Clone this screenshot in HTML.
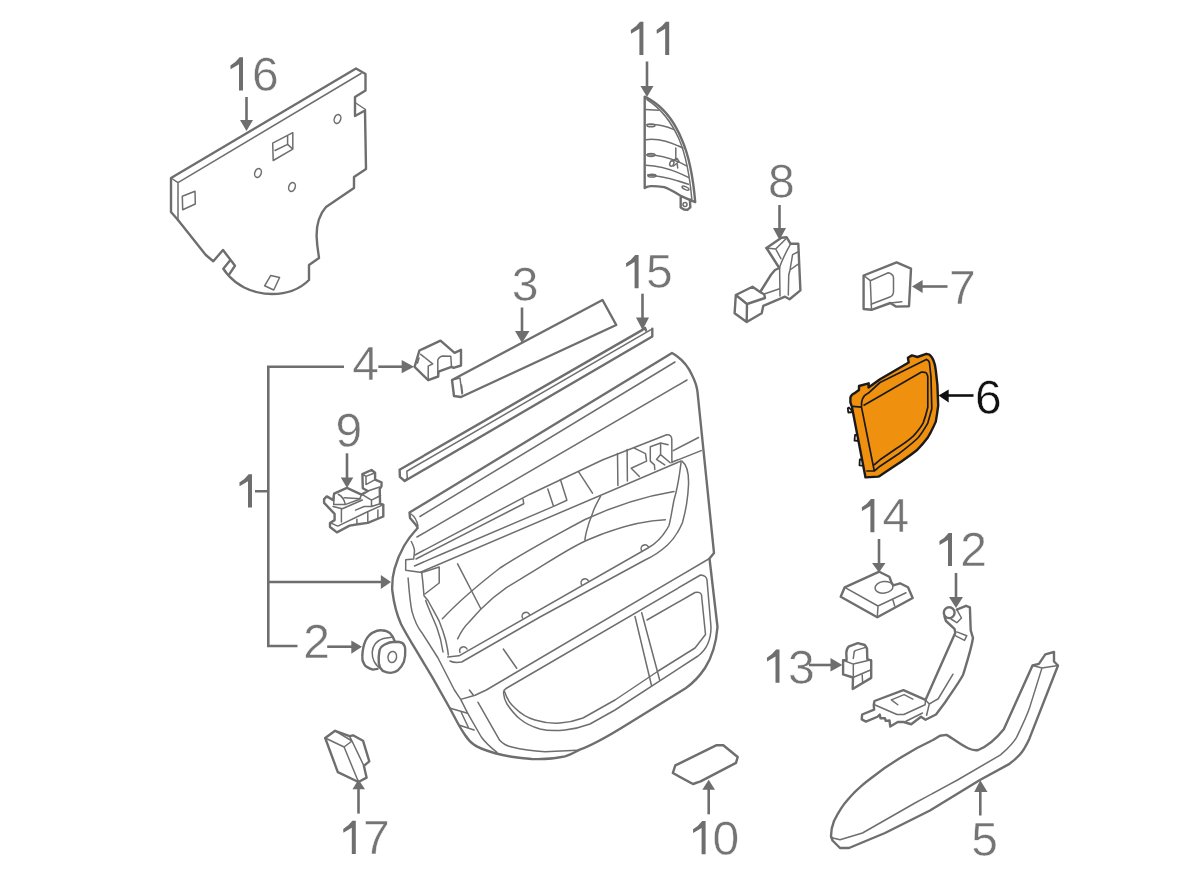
<!DOCTYPE html>
<html><head><meta charset="utf-8">
<style>
html,body{margin:0;padding:0;background:#fff;width:1200px;height:878px;overflow:hidden}
svg{position:absolute;left:0;top:0}
.t{font-family:"Liberation Sans",sans-serif;font-size:48px;fill:#747474;stroke:#fff;stroke-width:0.5;will-change:transform}
.o{fill:none;stroke:#6e6e6e;stroke-width:2.4;stroke-linejoin:round;stroke-linecap:round}
.i{fill:none;stroke:#6e6e6e;stroke-width:1.5;stroke-linejoin:round;stroke-linecap:round}
.a{fill:none;stroke:#6e6e6e;stroke-width:2.6}
.h{fill:#6e6e6e;stroke:none}
</style></head><body>
<svg width="1200" height="878" viewBox="0 0 1200 878">
<!-- LABELS -->
<g class="t">
<text x="252" y="90.5">6</text>
<text x="768" y="198">8</text>
<text x="949" y="304">7</text>
<text x="511.75" y="301.2">3</text>
<text x="646" y="287.5">5</text>
<text x="352.3" y="380">4</text>
<text x="335.5" y="446.7">9</text>
<text x="303.2" y="658">2</text>
<text x="882.6" y="532.3">4</text>
<text x="960.3" y="566.2">2</text>
<text x="788" y="683.5">3</text>
<text x="363" y="854">7</text>
<text x="712.5" y="854.7">0</text>
<text x="971.3" y="856.1">5</text>
<text x="975" y="413.5" style="fill:#111">6</text>
</g>
<g><path fill="#6e6e6e" d="M243.0,57.3 V90.5 H239.0 V64.3 L230.6,69.3 L230.4,65.5 Q236.0,62.3 239.6,57.3 Z"/>
<path fill="#6e6e6e" d="M643.4,21.8 V55.0 H639.4 V28.8 L631.0,33.8 L630.8,30.0 Q636.4,26.8 640.0,21.8 Z"/>
<path fill="#6e6e6e" d="M669.2,21.8 V55.0 H665.2 V28.8 L656.8,33.8 L656.6,30.0 Q662.2,26.8 665.8,21.8 Z"/>
<path fill="#6e6e6e" d="M638.6,255.0 V288.2 H634.6 V262.0 L626.2,267.0 L626.0,263.2 Q631.6,260.0 635.2,255.0 Z"/>
<path fill="#6e6e6e" d="M252.0,474.2 V507.4 H248.0 V481.2 L239.6,486.2 L239.4,482.4 Q245.0,479.2 248.6,474.2 Z"/>
<path fill="#6e6e6e" d="M874.4,499.1 V532.3 H870.4 V506.1 L862.0,511.1 L861.8,507.3 Q867.4,504.1 871.0,499.1 Z"/>
<path fill="#6e6e6e" d="M952.0,532.9 V566.1 H948.0 V539.9 L939.6,544.9 L939.4,541.1 Q945.0,537.9 948.6,532.9 Z"/>
<path fill="#6e6e6e" d="M779.5,649.5 V682.7 H775.5 V656.5 L767.1,661.5 L766.9,657.7 Q772.5,654.5 776.1,649.5 Z"/>
<path fill="#6e6e6e" d="M355.8,820.8 V854.0 H351.8 V827.8 L343.4,832.8 L343.2,829.0 Q348.8,825.8 352.4,820.8 Z"/>
<path fill="#6e6e6e" d="M705.6,821.0 V854.2 H701.6 V828.0 L693.2,833.0 L693.0,829.2 Q698.6,826.0 702.2,821.0 Z"/></g>
<!-- ARROWS -->
<g>
<path class="a" d="M246.5,97 V122"/><path class="h" d="M240,120 H253 L246.5,131 Z"/>
<path class="a" d="M647,61.5 V88"/><path class="h" d="M640.5,86 H653.5 L647,97 Z"/>
<path class="a" d="M779.5,205 V230"/><path class="h" d="M773,228 H786 L779.5,240 Z"/>
<path class="a" d="M947.5,286.5 H920"/><path class="h" d="M922.6,280 V293 L912,286.5 Z"/>
<path class="a" d="M522,307.5 V333"/><path class="h" d="M515,331 H529.5 L522,343 Z"/>
<path class="a" d="M642.5,293.7 V319"/><path class="h" d="M636,317.5 H649 L642.5,330 Z"/>
<path class="a" d="M378.3,366.7 H404"/><path class="h" d="M401.7,360 V373.3 L414,366.7 Z"/>
<path class="a" d="M347,453.3 V479"/><path class="h" d="M340.8,477.5 H353.3 L347,488 Z"/>
<path class="a" d="M268.3,366.7 V646 H297.5 M267,366.7 H344 M255,491.3 H268.3 M268.3,582 H383"/><path class="h" d="M380.8,575 V589 L391,582 Z"/>
<path class="a" d="M327.2,646.7 H353"/><path class="h" d="M351.3,640.4 V653.8 L362,646.7 Z"/>
<path class="a" d="M879,539 V565"/><path class="h" d="M872,563 H885.5 L879,572.5 Z"/>
<path class="a" d="M956,573 V599"/><path class="h" d="M949,597 H963 L956,608 Z"/>
<path class="a" d="M809,665 H832"/><path class="h" d="M830.5,658 V671.4 L842.3,664.9 Z"/>
<path class="a" d="M358.5,813.6 V787"/><path class="h" d="M352.5,789.3 H365 L358.5,779.4 Z"/>
<path class="a" d="M708.7,814.3 V787"/><path class="h" d="M702.3,789.8 H715 L708.7,779.7 Z"/>
<path class="a" d="M980.3,815.5 V790"/><path class="h" d="M974.2,792 H987.5 L980.3,780.2 Z"/>
<path d="M973.5,395.5 H946" style="fill:none;stroke:#111;stroke-width:2.6"/><path d="M948.7,389.5 V402.4 L938.5,395.5 Z" fill="#111"/>
</g>
<!-- PART 16 -->
<g>
<path class="o" d="M178,220 L171,212 L171,178 L356,68.5 L365.5,74 L365.5,90.5 L355,97 L355,116 L365,110.5 L366,169 L354,177 L354,188 L326,207 C318,216 316.5,226 316.6,236 C317,248 319,256 319,258 L309,265 L309,280 C300,289 288,294 272,294 C252,294 234,285 223.3,268.75 L230,260.4"/>
<path class="o" d="M178,220 L205.8,255 L213.3,261.25 L223,250 L235,265.8 L229,274.6"/>
<path class="i" d="M171,178 L178,182.7 L361,73.5 M178,182.7 V220 M355,102.5 L365.5,109.5"/>
<path class="i" d="M182.3,196.3 L195,191.3 L195.3,204 L182.7,209.7 Z"/>
<path class="i" d="M270.8,275.4 L279.6,277.5 L273.75,290 L264.6,285.8 Z"/>
<path class="i" d="M272.7,143.2 L292.8,132.7 L292.8,149.1 L273.2,160.5 Z M287.6,135.7 V144.4 L292.8,149.1 M287.6,144.4 L275,150.5"/>
<ellipse class="i" cx="337.5" cy="119" rx="3.2" ry="4.5" transform="rotate(20 337.5 119)"/>
<ellipse class="i" cx="258" cy="173" rx="3.2" ry="4.5" transform="rotate(20 258 173)"/>
<ellipse class="i" cx="292" cy="187" rx="3.2" ry="4.5" transform="rotate(20 292 187)"/>
</g>
<!-- PART 8 -->
<g>
<path class="o" d="M766.5,248 L781.4,237.7 L786.5,237.2 L790.6,243.8 L798.3,243.8 L800.4,290.4 L789.6,299.2 L785,296.7 L763.3,305.8 L761.7,313.3 L746.7,322 L734.6,313.3 L735.8,295 L752.5,286.7 L760.8,292.5 L764.2,294.2 L765,298 L747,304 L735.8,295 M747,304 L746.7,322"/>
<path class="o" d="M766.5,248 L779.3,268 L775,270 L770.8,275 L760.8,291"/>
<path class="i" d="M766.5,248 L775.7,249 L785.5,239.2 M775.7,249 L780.9,258.7 M790.6,243.8 C786,252 782,260 779.3,268 M779.6,268 L780,296 M765,293.75 L779.6,288.75 M797.8,252 L792.6,254.6 L790,270 L797.8,264.3 M790,270 L788.75,275 L788.3,295"/>
</g>
<!-- PART 7 -->
<g>
<path class="o" d="M863.6,275.5 L896.6,262.4 L911,268.7 L909,306.2 L895.9,306.6 L890.3,303 L871.5,309.8 L863.6,309 Z"/>
<path class="i" d="M863.6,275.5 L870.3,280.7 L871.5,309.8 M870.3,280.7 L888.3,272.7 Q893.5,274 893.5,278 L893.5,292 Q893,296 889.9,297 L871,304.2 M890.3,303 L901.8,301.8"/>
</g>

<!-- PART 11 -->
<g>
<path class="o" d="M644.7,96.7 C660,104 673,118 682,140 C689,156 693,176 695.2,202 M644.7,96.7 V188 C647,186.5 650,186 651.6,186.1 C656,186 660,186.5 664.2,187.1 C670,189 676,193 680.7,195.8 L691.3,200.7 L695.2,202 M680.7,196.8 V207.4 L684,209.5 L687.4,209.9 L690.3,207.4 L689.9,199.5"/>
<path class="i" d="M647,99.5 C660,108 671,121 679,139 C685,153 689.5,172 692,201"/>
<path class="i" d="M645.5,109.5 L658.3,110.3 M647,124.6 C656,124 666,126 673.4,129.4 M645.8,139.7 C660,138 672,143 683,148 M647,154.7 C662,155 676,160 686.5,165.8 M645.8,165.3 C662,166 676,171 688.4,177.4 M647.7,175 C662,176 676,180 688.4,184.2 M675.8,147.9 V159"/>
<ellipse class="i" cx="651" cy="125.4" rx="4" ry="1.4"/>
<ellipse class="i" cx="651" cy="155" rx="4" ry="1.4"/>
<ellipse class="i" cx="652" cy="175.7" rx="4" ry="1.4"/>
<ellipse class="i" cx="685.5" cy="188.1" rx="3.8" ry="1.4" transform="rotate(25 685.5 188.1)"/>
<circle class="i" cx="685" cy="204.5" r="2"/>
<ellipse class="i" cx="671.8" cy="163.4" rx="2" ry="2.8" transform="rotate(20 671.8 163.4)"/>
<path class="i" d="M672.5,160.6 L677,158.5 L679,161.5 L673.5,166 M677.3,164.4 L677.7,168"/>
</g>
<!-- PART 3 -->
<g>
<path class="o" d="M452,380 L602.5,300 L616.25,325 L461,397 L454,396 Z"/>
<path class="i" d="M452,380 L460,378 L462,394 M461.5,385 L462.5,393"/>
</g>
<!-- PART 15 -->
<g>
<path class="o" d="M399.6,469.7 L642.5,329.9 L645,327.8 L646,330.5 M399.6,469.7 L399.9,476.9 L404.7,481 L652.3,336.5 L652.3,328.8"/>
<path class="i" d="M406.8,471.25 L652.3,328.8 M406.8,471.25 L407.3,477.9 L404.7,481"/>
</g>
<!-- PART 4 -->
<g>
<path class="o" d="M414.6,366.9 L419.4,350.5 L440.5,340.6 L454.6,352.9 L461,349.8 L461,365.5 L453.5,367.9 L451.5,366.9 L438.5,371.7 L438.2,376.5 L428.2,380.2 Z"/>
<path class="i" d="M420.7,354.3 L432.7,363.8 L428.2,366.2 L428.2,380.2 M437.8,373.7 V360.1 C439,357 441,356 443.3,356 L450.8,356.3 L451.5,366.9 M419,358 L417.5,363"/>
</g>
<!-- PART 9 -->
<g>
<path class="o" d="M324.1,499.2 L326.8,496.4 L333.2,500.1 L334.1,493.7 L346.9,487.8 L361.5,494.6 L367.8,491 L362.8,488.2 L362.4,474.1 L371.5,470 L375.1,472.8 L375.1,479.6 L381.5,482.3 L381.5,486.4 L379.7,489.2 L380.1,503.7 L383.3,504.6 L383.3,516.5 L367.8,522.9 L357.8,524.2 L349.6,525.6 L336.9,532.4 L330,527 L330,522.9 L334.6,520.1 L334.6,513.8 L324.1,502.8 Z"/>
<path class="i" d="M334.1,494.2 L333.7,504.6 L345.1,504.6 L359.6,499.2 L361.5,494.6 M338.2,494.2 C342,496 344,499 345.1,503.7 M344.2,497.8 L360.6,498.7 M333,506.5 L342.3,508.7 L362.4,500 M341.4,508.7 V522 M330.5,522.9 L337.8,526.1 L367,512 L382.4,505.1 M356.9,519.2 V524 M367.8,512 V522.9 M377.9,510.1 V518.5 M355.5,510.1 L364.2,506.5 L371.5,506.5 L380,503.7 M362.4,494.6 L371.5,500.1 L380.6,495.5 M371.5,500.1 V506.5 M362.4,474.1 L366,476.4 L375.1,472.8 M366,476.4 V484.6 L375.1,479.6 M367.8,491 L379.7,487"/>
</g>
<!-- PART 2 -->
<g>
<path class="o" d="M377.5,668.9 L372.8,669.6 C368,668 365,666 364.3,664.3 C362,661 362,659 362.3,656.4 C362.5,650 364,644 365.6,640.5 C368,636 370,634 372.8,632.6 C376,631 379,630 381.4,630.3 C385,630.5 388,631.5 390,633.2 C392,635 393.5,638 394.7,641.2"/>
<path class="o" d="M394.7,641.8 C398,641.8 400.5,642 402.6,643.1 C404.5,645 405.2,647 405.2,649.8 C405.5,654 405,658 403.9,661.7 C402.5,665 400.5,668 398,670.2 C395.5,672 393,672.9 390.7,672.9 C387.5,672.9 385,672 382.8,670.9 C380.5,668.5 379,666 378.8,663 C378.5,659 378.8,654 379.5,650.4 C380.5,647.5 382.5,645.5 384.7,644.5 C387.5,643 391,642 394.7,641.8 Z"/>
<path class="i" d="M391.7,637.2 C388,637.5 386,638 383.4,638.5 C379,640 376.5,642 374.8,644.5 C373,647 372.3,650 372.2,652.4 C372,656 373,659 374.2,661.7 C376,665 379,668 382.1,669.6"/>
<ellipse class="i" cx="392.3" cy="657" rx="4.3" ry="5.5" transform="rotate(10 392.3 657)"/>
</g>
<!-- PART 17 -->
<g>
<path class="o" d="M325.2,738 L335.1,730.8 L349.5,736.2 L353,735.3 L363,740.7 L369.3,761.4 L363.9,765.9 L366.6,777.6 L358.5,782 L337.8,772.2 Z"/>
<path class="i" d="M325.2,738 L344.1,747 L352,741 L335.1,730.8 M344.1,747 L358.5,782 M352,741 L363.9,765.9 M349.5,736.2 L352,741"/>
</g>
<!-- PART 10 -->
<g>
<path class="o" d="M675.3,765.4 L716.6,745.2 L723.3,745.2 L737.7,757 L736,762.9 L700.6,781.4 L693,784 L672.8,773 Z"/>
</g>

<!-- DOOR PANEL -->
<g>
<path class="o" d="M409.5,512.5 L672,353 C681,358 688,366 692,375 C695,381 697,387 697.5,392 L714,553 L709.5,558.5 L717.5,627 C716,646 712,657 705,668 C699,677 693,683 686,688 L625,725.7 C610,735 595,744 579.7,749.7 C575,752 570,755 565,756.3 C555,758.5 545,759.5 531.7,759 C518,758 505,756 494.3,753 C486,750.5 478,748 473.8,744.5 C470,742 467,738 465,735 C463,732 461,729 458.8,725 L449.4,707.5 L432.4,677.4 L415,648.4 C410,640 405,632 401,624 C397,615 394,604 392.5,592 L392.2,589.3 C392,580 393,574 394.6,568.6 C397,560 400,553 404,546 C408,539 413,533 417.7,528 L416,525 L410,518 Z"/>
<path class="i" d="M411,514 C414,516 417,521 418,526"/>
<path class="i" d="M420,516.5 L675,362 M417,537 L687,380"/>
<path class="i" d="M415,555 L530,494.2 L602.4,460 L666.7,434.8 Q672,434.5 671.8,440 L671.9,462.8"/>
<path class="i" d="M416,559 L523.75,503.75 L523,499"/>
<path class="i" d="M414.5,566 L442,554 L553.6,506.4 L566.9,500.3 L560.4,479.5 M547.8,489 L553.6,506.4"/>
<path class="i" d="M421,572 L681,461"/>
<path class="i" d="M442.4,618.8 C460,600 478,585 500,568 C520,555 540,543.5 585,519.5 C610,508 640,497 674,491.5"/>
<path class="i" d="M457.6,638.8 C462,630 466,625 468.7,622.5 C485,603 500,590 520,579.3 C545,565 565,550 587.5,540 C615,528 640,521 665.4,519.75"/>
<path class="i" d="M600.6,496.1 C597,503 594,508 592.75,512.75 C589,522 586,530 584.9,539.9 M457.6,563.8 L480.7,608.5"/>
<path class="i" d="M682,461.1 C687,465 689,472 688.5,485 C688,497 686,510 682.5,522.5 C678,533 673,540 667.5,545 C661,551 654,556 645,560 L540,617 L461.7,662 C456,663 452,662 450,661"/>
<path class="i" d="M681.1,462 C679,480 677,490 674,500 C672,510 671,518 669,525.5 C664,535 657,543 648,548 L459,655.8 L447.7,657"/>
<path class="i" d="M641.5,550.5 A3.5,3.5 0 0 1 648.5,547 M581.5,584.5 A3.5,3.5 0 0 1 588.5,581 M522.5,618 A3.5,3.5 0 0 1 529.5,614.5 M460,652.5 A3.5,3.5 0 0 1 467,649"/>
<path class="i" d="M673.25,450.6 L698.6,437.5 M672.4,462 L701.25,450.6"/>
<path class="i" d="M617.5,453.6 L617.9,485.4 M627.1,449.5 L627.4,480.9 M634.3,448.1 L645.5,453.6 L646.6,461.1 L631.2,468.3 L639.4,476.5 M654.8,469.6 L654.4,464.9 L650.3,461.1 L650.3,446.7 L660.6,443 L668.1,444.7 M660.6,443 V454.6 L656.5,459.4 L664.7,464.9 M660.6,454.6 L670.2,462.8"/>
<path class="i" d="M578.5,471.6 L592.5,493.1"/>
<!-- left frame -->
<path class="i" d="M411.3,541.5 C413,545 414.5,548 414.5,551 L413.7,559 L405.7,559.8 L405.7,570.2 L421.7,572.6 L439.2,567 L439.2,583 L424.9,594"/>
<path class="i" d="M408.1,578 C409,590 410,602 412,611.6 C415,622 418,628 421.7,632.4 L438,658 L454.4,690 L460.7,699.4 L467.6,713.2 L481.3,737 C485,742 490,747 497,752.3"/>
<path class="i" d="M421.7,572.6 C423,582 423.5,590 424,595.7 L428,600.5 C432,608 436,615 439.2,621.2 C442,628 444,634 445.6,640 C447,646 448,651 448.3,655"/>
<path class="i" d="M425.7,600.5 C429,610 434,620 437,628 C440,636 442,645 443,652"/>
<!-- lower -->
<path class="i" d="M460.7,699.4 L475.1,695.3 L486.3,690 L709.5,558.5"/>
<path class="i" d="M503.5,693 C504,698 505,701 507,704 C511,710 515,715 520,719 C526,724 533,727 540,729 C548,731 556,731 565,730 C574,729 582,727 590,724 L615,710 L698,656 C706,650 711,640 711,627 L707,580 Q706.5,575.5 700.5,575 L506,688.5 Q503.5,690 503.5,693"/>
<path class="i" d="M504.5,691.5 C507,699 510,704 515,708 C521,714 528,718 535,720 C543,722.5 552,723.5 560,723 C568,722.5 575,721 583,718 L615,700 L659,670.5"/>
<path class="i" d="M635,616.5 L651.5,685.5 M641.7,612.7 L659.7,680"/>
<path class="i" d="M647,620 L695,592.5 Q701,591.5 701.5,595 L705.5,634.5 L695,648 L659,670.5"/>
<path class="i" d="M503.3,649 L516.7,668.3 M477.9,702.2 L499.7,740.3 C503,744 507,746 511.7,747 C522,749.5 533,751 545,751.7 L577,750.3 M450.3,708.2 L467.6,713.2 M461.3,712.5 L468.2,727 M458.8,725 L474.1,730 M469.4,690 L473.2,695"/>
</g>
<!--PARTS4-->



<!-- PART 14 -->
<g>
<path class="o" d="M844.7,587.3 L879.3,571.7 L889.3,576.7 L891.3,582 L893.3,585.3 L900,583.3 L908,587.3 L912.7,598 L877.3,617.3 L840.7,596.7 Z"/>
<path class="i" d="M844.7,587.3 L878,606 L906,592.7 M878,606 L877.3,617.3 M892.7,599.3 L894.7,606"/>
<ellipse class="i" cx="884" cy="587.3" rx="9" ry="5.8" transform="rotate(-8 884 587.3)"/>
</g>
<!-- PART 12 -->
<g>
<path class="o" d="M944.5,616.5 L946,621 L954.5,628.8 L955.3,632.7 L925.5,699.9 L903.4,690.1 L874.5,701 L873.75,704.75 L874.1,709.6 L862.1,714.5 L861.75,719.4 L865.9,721.6 L877.5,716.75 L879.75,714.5 L880.5,718.3 L885,718.3 L885.75,720.9 L889.5,720.5 L890.25,726.5 L897.75,722 L903.75,722 L911.25,724.25 L921,716.75 L925.5,719.75 L936,714.5 L945,702.5 C952,692 958,684 963,675 C967,662 971,650 973,638 L970.7,630.4 L969.9,607.3 L966,605.8 L956.8,609.6"/>
<circle class="o" cx="949.2" cy="612.7" r="5.4"/>
<path class="i" d="M874.5,704.75 L897,714.5 L903.8,714.5 L925.1,704.75 L925.5,699.9 M929.25,704 L926.6,715.25 M925.5,699.9 L929.25,704 L938.25,698.75 L953,674.2 M906,721.25 L922.5,713 M891.4,699.9 L897.8,704.75 M891.4,699.9 L904.1,694.6 L912.8,699.1 M956.8,609.6 L961.5,618 L956.8,622.7 L951,619 M956.8,631.9 L966.8,635.7 L964.5,640.4 L955.3,635.7"/>
</g>
<!-- PART 13 -->
<g>
<path class="o" d="M843.1,660.3 L846.6,660 L846.3,652.7 C846.5,649 847.5,647.5 849.2,646.3 L857.8,643.1 L864.8,645 L867,648.5 L867.3,659 L871.2,660.6 L871.2,677.9 L852.7,689 L853,677.5 L843.1,674.4 Z"/>
<path class="i" d="M843.1,660.3 L853.3,664.1 L871.2,659.7 M853.3,664.1 V677.5 M853.3,658.4 L854.3,651.4 L855.9,650.4 L864.8,647.6 M853,677.5 L869.9,670.2 M862.2,675 L862.6,682"/>
</g>
<!-- PART 5 -->
<g>
<path class="o" d="M831,836 C831,830 832,826 834,821 C838,813 842,806 847.5,800 C854,792 862,785 870,779 C880,771 890,764 900,758 C911,751 922,745 933,740 L940,735.7 L946.4,734.9 C954,739 961,745 968.7,748.5 C972,750 975,750.5 978.3,750 C988,746 996,739 1003.8,729.3 L1032.5,665.5 L1038.9,663.9 L1045.3,654.4 L1054,652 L1054,661.5 L1058,665.5 L1029.3,738.9 C1026,746 1023,751 1019.7,754.8 C1016,759 1012,762 1008.6,764.4 L979.9,780 L930,810.5 L885,833 L849,848 L840,848 L832.5,840.5 Z"/>
<path class="i" d="M1032.5,665.5 L1042,667.9 L1058,665.5 M1042,667.9 L1029.3,708.6 C1026,718 1021,728 1016.6,737.3 C1012,745 1006,750 1000.6,754.8 L957.5,780 L915,803 L862.5,833 L840,839.7 L831,837.5"/>
</g>
<!-- PART 6 -->
<g stroke="#1a1a1a" stroke-linejoin="round">
<path d="M849,407.5 L847.8,408.3 L848.3,412.5 L853,412 Z M855,435 L854.5,440.5 L859.5,441 L858.5,435 Z M859.8,459.5 L859.5,465.3 L864.5,465.8 L863.5,459.5 Z" fill="#fff" stroke-width="1.8"/>
<path d="M850.4,397.6 C851,395 853,393.5 855.2,392.8 L859,390 L859,386 L868.7,383.3 L868.5,387.5 L880,379.3 L908.7,362.5 L907.9,357.8 L911.9,355.4 L917.5,357 L926.3,353.8 L929.4,354.6 C931,356 932.5,358 933.4,360.2 C934.8,363.5 935.5,367 935.8,370.5 L937.4,384.9 L938.2,405.6 C937.5,411 936.8,416 935.8,421.6 C933.5,427 931,432 927.8,437.5 C924.5,442 921,446 916.7,450.3 C911,455 905,459 899.1,463 L880,475.8 L878.3,476.6 L865.5,477.4 L852,407.2 L850.4,402.4 Z" fill="#f0900f" stroke-width="2.4"/>
<path d="M852.8,406.4 L861.5,407.2 C861,402 862,396 868.7,392.8 L880,382.5 L926.3,359.4 C928,360 929,361 929.4,362.5 L931,376.9 L931.8,408.8 L927.8,423.1 C925,428 922,433 918.3,437.5 C913,443 906,448 899.1,453.5 L880,466.2 L874.3,471 L866.3,471 M861.5,407.2 L874.3,471 M863.5,405.5 L880,396 L921.5,372.1 C924,372 925.5,372.3 926.3,372.9 C927,374 927.6,375.5 927.8,376.9 L927.8,407.2 C926.5,413 925,418 923.1,423.1 C920.5,428 917,432 913.5,435.9 C908,441 902,445 896,448.7 L880,459.8 L874,465" fill="none" stroke-width="1.7"/>
</g>
</svg>
</body></html>
